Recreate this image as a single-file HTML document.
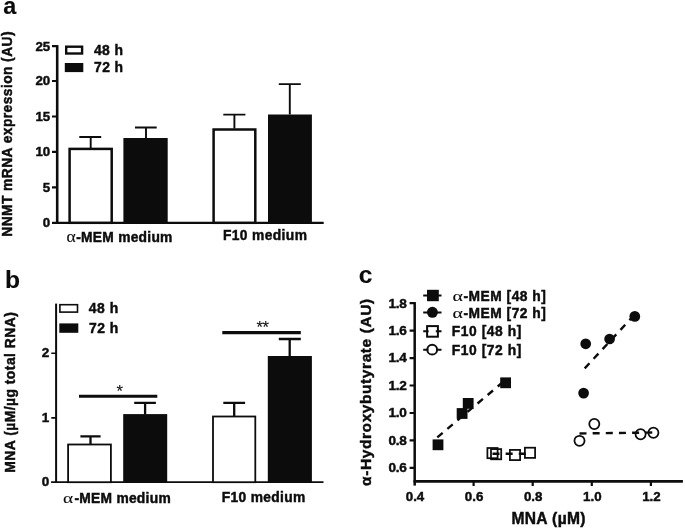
<!DOCTYPE html>
<html><head><meta charset="utf-8"><title>Figure</title>
<style>
html,body{margin:0;padding:0;background:#fff;}
svg{display:block;filter:blur(0.4px);}
text{font-family:"Liberation Sans",Arial,sans-serif;font-weight:bold;fill:#0c0c0c;stroke:#0c0c0c;stroke-width:0.45px;}
.a{font-weight:normal;stroke-width:0.1px;}
.al{font-family:"Liberation Serif","DejaVu Serif",serif;font-weight:normal;stroke-width:0.1px;}
</style></head><body>
<svg width="685" height="529" viewBox="0 0 685 529">
<rect x="-5" y="-5" width="695" height="539" fill="#fff"/>

<text x="3.25" y="14.3" font-size="23.4" style="stroke-width:0.15px">a</text>
<text x="4.95" y="287.5" font-size="24.6" style="stroke-width:0.15px">b</text>
<text x="358.70" y="283.4" font-size="24.6" style="stroke-width:0.15px">c</text>
<g stroke="#0c0c0c" fill="none">
<path d="M57.2 45.1V224" stroke-width="2.6"/>
<path d="M52 222.8H323.7" stroke-width="2.35"/>
<path d="M52 187.4H57.2M52 151.9H57.2M52 116.5H57.2M52 81.0H57.2M52 46.2H57.2" stroke-width="2.2"/>
<g stroke-width="1.9">
<path d="M90.7 148.5V137M79.3 137H101.2"/>
<path d="M146 138.5V127.5M135 127.5H156.7"/>
<path d="M234.4 128.5V114.6M223.3 114.6H245.4"/>
<path d="M289.8 114.5V84.1M278.8 84.1H300.8"/>
</g>
<rect x="69.6" y="148.9" width="42.1" height="73.9" fill="#fff" stroke-width="2.5"/>
<rect x="123.4" y="138" width="44.3" height="84.8" fill="#0c0c0c" stroke="none"/>
<rect x="213.6" y="129.5" width="41.7" height="93.3" fill="#fff" stroke-width="2.5"/>
<rect x="268" y="114.5" width="43.9" height="108.3" fill="#0c0c0c" stroke="none"/>
<rect x="66.2" y="46.7" width="15.9" height="6.8" fill="#fff" stroke-width="2.4"/>
<rect x="64.8" y="63" width="18.5" height="9.1" fill="#0c0c0c" stroke="none"/>
</g>
<g font-size="13.3" text-anchor="end">
<text x="50.2" y="227.2">0</text>
<text x="50.2" y="191.8">5</text>
<text x="50.2" y="156.3">10</text>
<text x="50.2" y="120.9">15</text>
<text x="50.2" y="85.4">20</text>
<text x="50.2" y="50.5">25</text>
</g>
<text x="93.95" y="54.7" font-size="13.9" letter-spacing="0.417">48 h</text>
<text x="94.10" y="72.1" font-size="13.9" letter-spacing="0.367">72 h</text>
<text x="76.20" y="241.5" font-size="13.8" letter-spacing="0.265">-MEM medium</text>
<text x="222.90" y="240.1" font-size="13.8" letter-spacing="0.394">F10 medium</text>
<text font-size="13.8" letter-spacing="0.427" transform="translate(12.3 236.70) rotate(-90)">NNMT mRNA expression (AU)</text>
<text class="al" font-size="16.6" transform="translate(66.40 241.9) scale(1.06 1)">α</text>
<g stroke="#0c0c0c" fill="none">
<path d="M56.1 303.6V483" stroke-width="2"/>
<path d="M51.1 482.2H323.5" stroke-width="1.8"/>
<path d="M51.3 353.2H56.1M51.3 417.9H56.1" stroke-width="1.6"/>
<g stroke-width="2.3">
<path d="M90.5 444V436.3M80.4 436.3H100.6"/>
<path d="M145.1 414.5V402.8M134.2 402.8H155.9"/>
<path d="M234.2 416V402.9M223.3 402.9H245.1"/>
<path d="M289.7 356.5V339M278.8 339H300.8"/>
</g>
<path d="M79 396.3H157.3" stroke-width="3.1"/>
<path d="M222.3 332.6H300.8" stroke-width="3.1"/>
<rect x="68.1" y="444.5" width="42.8" height="37.7" fill="#fff" stroke-width="1.8"/>
<rect x="123.2" y="414.1" width="44" height="68.1" fill="#0c0c0c" stroke="none"/>
<rect x="213" y="416.5" width="42.3" height="65.7" fill="#fff" stroke-width="1.8"/>
<rect x="267.8" y="356" width="44.1" height="126.2" fill="#0c0c0c" stroke="none"/>
<rect x="59.9" y="304.7" width="17.6" height="7.4" fill="#fff" stroke-width="1.6"/>
<rect x="59.3" y="323.4" width="19" height="9.4" fill="#0c0c0c" stroke="none"/>
</g>
<g font-size="13.5" text-anchor="end">
<text x="49.3" y="357.2">2</text><text x="49.3" y="422">1</text><text x="49.3" y="486.1">0</text>
</g>
<text x="88.85" y="313.3" font-size="13.9" letter-spacing="0.550">48 h</text>
<text x="89.10" y="332.8" font-size="13.9" letter-spacing="0.467">72 h</text>
<text x="74.40" y="502.8" font-size="13.8" letter-spacing="0.275">-MEM medium</text>
<text x="221.70" y="502.2" font-size="13.8" letter-spacing="0.339">F10 medium</text>
<text font-size="13.9" letter-spacing="0.463" transform="translate(15.4 472.70) rotate(-90)">MNA (µM/µg total RNA)</text>
<text class="al" font-size="15.4" transform="translate(63.10 503.0) scale(1.25 1)">α</text>
<text x="116.4" y="397.2" class="a" font-size="16.5">*</text>
<text x="256.6" y="333.2" class="a" font-size="16.5" letter-spacing="-0.5">**</text>
<g stroke="#0c0c0c" fill="none">
<path d="M414.7 302.1V485.6" stroke-width="2.5"/>
<path d="M413.5 481.4H682.9" stroke-width="2.7"/>
<path d="M409.6 467.9H414.7M409.6 440.4H414.7M409.6 413.0H414.7M409.6 385.5H414.7M409.6 358.1H414.7M409.6 330.6H414.7M409.6 303.2H414.7" stroke-width="2.2"/>
<path d="M473.6 481.4V485.9M532.7 481.4V485.9M591.8 481.4V485.9M650.9 481.4V485.9" stroke-width="2.2"/>
<path d="M423.2 295.6H441.5M423.2 312.4H441.5" stroke-width="2"/>
</g>
<g fill="#0c0c0c" stroke="none">
<rect x="432.6" y="439.4" width="10.8" height="10.8"/>
<rect x="456.7" y="408.1" width="10.8" height="10.8"/>
<rect x="462.8" y="398.0" width="10.8" height="10.8"/>
<rect x="500.2" y="377.4" width="10.8" height="10.8"/>
<circle cx="585.7" cy="343.8" r="5.35"/>
<circle cx="609.6" cy="339" r="5.35"/>
<circle cx="634.8" cy="316.4" r="5.35"/>
<circle cx="583.6" cy="393.1" r="5.35"/>
<rect x="427" y="289.8" width="11.8" height="11.4"/>
<circle cx="432.4" cy="312.3" r="5.5"/>
</g>
<g fill="#fff" stroke="#0c0c0c" stroke-width="1.75">
<rect x="487.4" y="448.0" width="10.2" height="10.2" fill="none"/>
<rect x="491.0" y="449.1" width="10.2" height="10.2" fill="none"/>
<rect x="509.9" y="449.9" width="10.2" height="10.2" fill="none"/>
<rect x="524.9" y="447.7" width="10.2" height="10.2" fill="none"/>
<circle cx="579.5" cy="440.8" r="5.05"/>
<circle cx="594.3" cy="424" r="5.05"/>
<circle cx="640.6" cy="434.2" r="5.05"/>
<circle cx="653.4" cy="432.7" r="5.05"/>
<rect x="427.1" y="326.1" width="10.8" height="10.6" stroke-width="2"/>
<circle cx="432.2" cy="349.7" r="4.9" stroke-width="2"/>
</g>
<g stroke="#0c0c0c" fill="none" stroke-width="2.4" stroke-dasharray="7 6.15">
<path d="M437.3 437.3L505.6 379.9"/>
<path d="M584.7 368.4L634.8 314.4"/>
<path d="M492.5 453.8H530"/>
<path d="M579.5 433.5L653.4 432.5"/>
</g>
<path d="M423.2 331.3H428.6M435.8 331.3H441.5M423.2 349.8H428.4M436.4 349.8H441.5" stroke="#0c0c0c" stroke-width="2"/>
<g font-size="13.6" text-anchor="end" letter-spacing="-0.25">
<text x="406.7" y="472.2">0.6</text>
<text x="406.7" y="444.8">0.8</text>
<text x="406.7" y="417.3">1.0</text>
<text x="406.7" y="389.8">1.2</text>
<text x="406.7" y="362.4">1.4</text>
<text x="406.7" y="334.9">1.6</text>
<text x="406.7" y="307.6">1.8</text>
</g>
<g font-size="13.3" text-anchor="middle">
<text x="415.0" y="500.8">0.4</text>
<text x="474.1" y="500.8">0.6</text>
<text x="533.2" y="500.8">0.8</text>
<text x="592.3" y="500.8">1.0</text>
<text x="651.4" y="500.8">1.2</text>
</g>
<text x="463.40" y="300.7" font-size="13.8" letter-spacing="0.505">-MEM [48 h]</text>
<text x="463.40" y="318.3" font-size="13.8" letter-spacing="0.505">-MEM [72 h]</text>
<text x="451.80" y="336.1" font-size="13.8" letter-spacing="0.561">F10 [48 h]</text>
<text x="451.80" y="354.9" font-size="13.8" letter-spacing="0.561">F10 [72 h]</text>
<text x="511.40" y="523.7" font-size="15.6" letter-spacing="0.364">MNA (µM)</text>
<text font-size="15.5" letter-spacing="0.579" transform="translate(370.6 485.90) rotate(-90)">α-Hydroxybutyrate (AU)</text>
<text class="al" font-size="14.8" transform="translate(452.40 300.6) scale(1.34 1)">α</text>
<text class="al" font-size="14.8" transform="translate(452.40 318.2) scale(1.34 1)">α</text>
</svg>
</body></html>
